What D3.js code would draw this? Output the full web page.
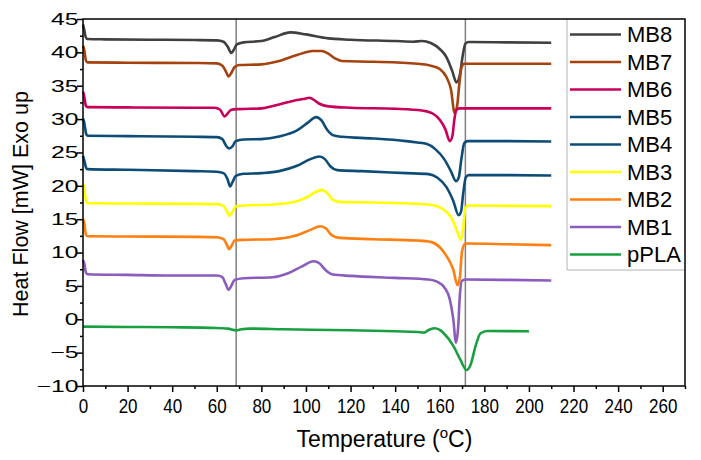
<!DOCTYPE html>
<html>
<head>
<meta charset="utf-8">
<script src="https://cdn.jsdelivr.net/npm/d3@7/dist/d3.min.js"></script>
<style>
  html, body { margin: 0; padding: 0; background: #fff; }
  svg { display: block; }
  text { font-family: Arial, "Liberation Sans", sans-serif; fill: #000; }
</style>
</head>
<body>
<svg id="chart" width="701" height="460"></svg>
<script>
// ---------- data (temperature °C, heat flow mW) ----------
const seriesNames = ["MB8", "MB7", "MB6", "MB5", "MB4", "MB3", "MB2", "MB1", "pPLA"];
const seriesColors = ["#404040", "#A5420E", "#C8005A", "#0E4C78", "#0E4C78", "#FFFF00", "#FF7F10", "#8A5CBE", "#18A040"];

const MB8 = [[0,44.2],[0.5,43.5],[1.2,42.3],[2,42.0],[10,41.95],[30,41.9],[50,41.85],[60,41.8],[63,41.6],[65,40.8],[66.5,39.9],[67.5,40.3],[69,41.2],[72,41.5],[80,41.7],[86,42.3],[93,43.0],[100,42.7],[110,42.1],[120,41.9],[140,41.7],[148,41.6],[152,41.7],[156,41.4],[160,40.5],[163,39.3],[165.5,37.3],[167.5,35.5],[169,36.6],[170.3,39.5],[171.5,41.3],[173,41.55],[190,41.5],[210,41.45]];
const MB7 = [[0,41.0],[0.5,40.5],[1.3,38.8],[2,38.5],[20,38.45],[50,38.4],[60,38.35],[62.5,38.0],[64,37.2],[65.3,36.4],[66.5,36.9],[68,37.8],[70,38.1],[80,38.2],[88,38.7],[96,39.6],[103,40.2],[107,40.2],[110,39.8],[113,39.1],[116,38.7],[130,38.6],[150,38.3],[156,38.0],[160,37.5],[163,36.3],[165,34.5],[166.7,30.9],[167.8,32.0],[168.8,35.3],[169.8,37.8],[171,38.3],[190,38.3],[210,38.3]];
const MB6 = [[0,34.1],[0.5,33.5],[1.3,32.0],[2,31.8],[20,31.75],[50,31.7],[59,31.7],[61.5,31.4],[63.5,30.4],[65,30.9],[66.5,31.4],[70,31.5],[80,31.6],[88,32.2],[95,32.8],[99,33.0],[101.5,33.2],[103,33.0],[106,32.3],[110,31.9],[120,31.7],[140,31.55],[152,31.3],[157,30.8],[160,29.9],[162.5,28.5],[164.5,26.7],[165.7,27.5],[166.5,29.8],[167.5,31.4],[169,31.6],[190,31.6],[210,31.6]];
const MB5 = [[0,30.1],[0.6,29.4],[1.4,27.8],[2,27.5],[20,27.45],[50,27.35],[60,27.3],[62.5,27.0],[64,26.1],[65.5,25.6],[67,25.9],[68.5,26.7],[72,26.95],[80,27.0],[88,27.4],[96,28.3],[101,29.5],[104.5,30.3],[107,29.8],[109.5,28.4],[112,27.6],[116,27.35],[130,27.1],[145,26.7],[150,26.5],[154,26.3],[158,25.5],[162,24.0],[165,22.2],[167.3,20.7],[168.5,21.2],[169.7,24.0],[171,26.4],[172.5,26.7],[190,26.7],[210,26.65]];
const MB4 = [[0,24.5],[0.6,23.8],[1.4,22.7],[2,22.5],[20,22.4],[50,22.2],[60,22.1],[63,21.9],[64.8,21.0],[66,19.9],[67,20.5],[68.5,21.5],[72,21.8],[80,21.9],[88,22.2],[96,23.0],[102,24.0],[106,24.4],[108.5,24.0],[111,22.9],[114,22.35],[125,22.2],[145,21.9],[155,21.75],[159,21.2],[163,19.8],[166,17.8],[168.5,15.6],[169.6,16.2],[170.5,18.8],[171.7,21.3],[173,21.6],[190,21.6],[210,21.55]];
const MB3 = [[0,20.3],[0.6,19.6],[1.3,17.8],[2,17.4],[20,17.35],[50,17.3],[60,17.25],[63,17.0],[64.5,16.2],[65.7,15.5],[67,16.1],[68.5,16.9],[72,17.05],[85,17.2],[95,17.6],[101,18.4],[105,19.2],[107.5,19.35],[109.5,18.9],[112,17.9],[115,17.6],[130,17.5],[150,17.3],[157,17.1],[161,16.6],[165,15.3],[167.5,13.5],[169.5,11.9],[170.5,13.5],[171.5,16.7],[173,17.05],[190,17.0],[210,16.95]];
const MB2 = [[0,15.1],[0.6,14.3],[1.3,12.7],[2,12.45],[20,12.4],[50,12.35],[60,12.3],[63,12.0],[64.5,11.2],[65.5,10.5],[66.5,10.9],[68,11.8],[72,11.9],[85,12.0],[95,12.5],[102,13.4],[106.5,13.95],[109,13.6],[111.5,12.6],[115,12.2],[130,12.0],[150,11.8],[156,11.6],[160,10.8],[163,9.5],[166,7.5],[168,5.1],[169,6.2],[170,10.2],[171.5,11.35],[190,11.25],[210,11.1]];
const MB1 = [[0,8.9],[0.6,8.3],[1.3,7.0],[2,6.75],[20,6.65],[40,6.55],[60,6.55],[62.5,6.3],[64,5.3],[65.3,4.4],[66.5,5.0],[68,5.9],[72,6.15],[85,6.3],[92,6.9],[98,7.9],[103.5,8.7],[106,8.4],[109,7.3],[112,6.7],[120,6.5],[140,6.2],[155,5.95],[159,5.6],[162,4.8],[164.5,3.0],[166,0.2],[167.3,-3.5],[168.3,-1.0],[169,3.5],[170,5.8],[172,5.95],[190,5.9],[210,5.8]];
const pPLA = [[0,-1.1],[20,-1.15],[40,-1.2],[60,-1.3],[65,-1.4],[68.7,-1.65],[71,-1.5],[75,-1.4],[90,-1.5],[120,-1.65],[140,-1.8],[150,-1.9],[153,-2.0],[155,-1.6],[157.5,-1.35],[160,-1.6],[161.8,-2.1],[166.3,-4.1],[169.3,-6.1],[172,-7.6],[173.8,-6.85],[176,-4.1],[178.3,-2.1],[181.3,-1.75],[200,-1.8]];

const seriesData = [MB8, MB7, MB6, MB5, MB4, MB3, MB2, MB1, pPLA];
const refLines = [68.7, 171.5];
const xTicks = d3.range(0, 261, 20);
const yTicks = d3.range(-10, 46, 5);

// ---------- layout ----------
const W = 701, H = 460;
const margin = { left: 83, top: 19, right: 16, bottom: 74 };
const iw = W - margin.left - margin.right;
const ih = H - margin.top - margin.bottom;

const svg = d3.select("#chart");
const g = svg.append("g").attr("transform", `translate(${margin.left},${margin.top})`);

const x = d3.scaleLinear().domain([0, 270]).range([0, iw]);
const y = d3.scaleLinear().domain([-10, 45]).range([ih, 0]);

// reference lines
g.selectAll(".ref").data(refLines).enter().append("line")
  .attr("x1", d => x(d)).attr("x2", d => x(d))
  .attr("y1", 0).attr("y2", ih)
  .attr("stroke", "#7f7f7f").attr("stroke-width", 1.5);

// curves
const line = d3.line().x(d => x(d[0])).y(d => y(d[1])).curve(d3.curveMonotoneX);
g.selectAll(".curve").data(seriesData).enter().append("path")
  .attr("d", line)
  .attr("fill", "none")
  .attr("stroke", (d, i) => seriesColors[i])
  .attr("stroke-width", 2.6)
  .attr("stroke-linejoin", "round");

// legend
const legX = 484, legW = iw - legX, legH = 251;
g.append("path")
  .attr("d", `M${legX},0 V${legH} H${iw}`)
  .attr("fill", "none").attr("stroke", "#b4b4b4").attr("stroke-width", 1);
const leg = g.selectAll(".leg").data(seriesNames).enter().append("g")
  .attr("transform", (d, i) => `translate(${legX}, ${15.5 + i * 27.5})`);
leg.append("line").attr("x1", 3).attr("x2", 54).attr("y1", 0).attr("y2", 0)
  .attr("stroke", (d, i) => seriesColors[i]).attr("stroke-width", 2.6);
leg.append("text").attr("x", 60).attr("y", 0).attr("dy", "0.36em")
  .attr("font-size", 22).text(d => d);

// axes
const xAxis = d3.axisBottom(x).tickValues(xTicks).tickSize(6).tickFormat(d3.format("d"));
const xMinor = d3.axisBottom(x).tickValues(d3.range(10, 271, 20)).tickSize(3).tickFormat("");
const yAxis = d3.axisLeft(y).tickValues(yTicks).tickSize(6).tickFormat(d3.format("d"));
const yMinor = d3.axisLeft(y).tickValues(d3.range(-7.5, 45, 5)).tickSize(3).tickFormat("");

function styleAxis(sel) {
  sel.select(".domain").remove();
  sel.selectAll("line").attr("stroke", "#000").attr("stroke-width", 1.5);
}
const gx = g.append("g").attr("transform", `translate(0,${ih})`).call(xAxis).call(styleAxis);
gx.selectAll("text")
  .attr("font-size", 17).attr("fill", "#000")
  .attr("font-family", "Arial, 'Liberation Sans', sans-serif")
  .attr("dy", null).attr("y", 27 / 1.23)
  .attr("transform", "scale(1,1.23)");
g.append("g").attr("transform", `translate(0,${ih})`).call(xMinor).call(styleAxis);
const gy = g.append("g").call(yAxis).call(styleAxis);
gy.selectAll("text")
  .attr("font-size", 16.5).attr("fill", "#000")
  .attr("font-family", "Arial, 'Liberation Sans', sans-serif")
  .attr("x", -4.5 / 1.5)
  .attr("transform", "scale(1.5,1)");
g.append("g").call(yMinor).call(styleAxis);

// frame
g.append("rect").attr("x", 0).attr("y", 0).attr("width", iw).attr("height", ih)
  .attr("fill", "none").attr("stroke", "#000").attr("stroke-width", 1.5);

// axis titles
const xt = svg.append("text")
  .attr("x", 384.5).attr("y", 447)
  .attr("text-anchor", "middle").attr("font-size", 23);
xt.append("tspan").text("Temperature (");
xt.append("tspan").attr("font-size", 15).attr("dy", -9).text("o");
xt.append("tspan").attr("dy", 9).text("C)");

svg.append("text")
  .attr("transform", `translate(28, 204) rotate(-90)`)
  .attr("text-anchor", "middle").attr("font-size", 21.5)
  .text("Heat Flow [mW] Exo up");
</script>
</body>
</html>
